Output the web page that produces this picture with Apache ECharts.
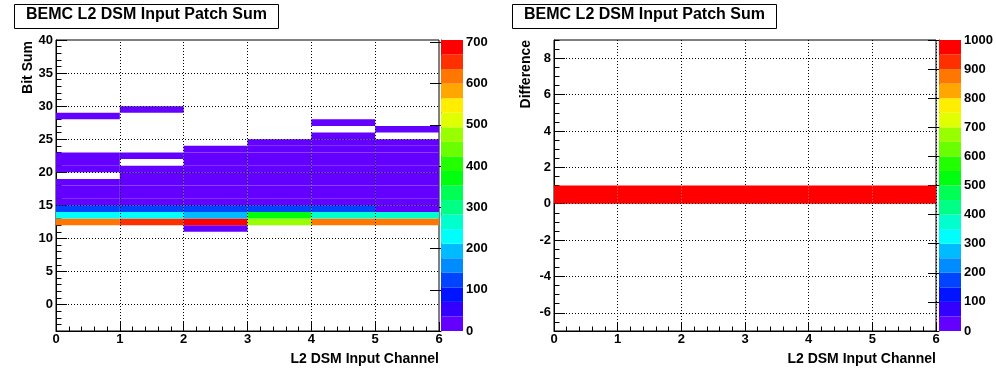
<!DOCTYPE html>
<html><head><meta charset="utf-8">
<script src="https://cdn.jsdelivr.net/npm/echarts@6/dist/echarts.min.js"></script>
<style>html,body{margin:0;padding:0;background:#fff}#c{width:996px;height:372px}</style>
</head><body><div id="c"></div>
<script>
// ---------- data ----------
const channels = [0, 1, 2, 3, 4, 5];
// lower edges of the "Bit Sum" bins (bin width 1)
const bitSumBins = [11,12,13,14,15,16,17,18,19,20,21,22,23,24,25,26,27,28,29];
// counts per bin for each L2 DSM input channel
const ch0 = [0,615,230,115,14,9,6,4,0,3,2,1,0,0,0,0,0,1,0];
const ch1 = [0,650,215,115,12,8,5,3,2,1,0,1,0,0,0,0,0,0,1];
const ch2 = [2,706,190,115,7,4,2,1,1,1,1,1,1,0,0,0,0,0,0];
const ch3 = [0,470,370,115,14,9,6,4,3,2,2,1,1,1,0,0,0,0,0];
const ch4 = [0,610,260,115,10,7,5,3,2,1,1,1,1,1,1,0,1,0,0];
const ch5 = [0,620,265,30,28,18,11,7,4,3,2,2,1,1,0,1,0,0,0];
const bitSumTicks = [0,5,10,15,20,25,30,35,40];
// difference plot: every channel has all entries in the bin [0,1)
const diffBin = [0,0,0,0,0,0];
const diffCounts = [1000,1000,1000,1000,1000,1000];
const diffTicks = [-6,-4,-2,0,2,4,6,8];
const zTicksLeft = [0,100,200,300,400,500,600,700];

// ---------- helpers ----------
const FONT = "'Liberation Sans', Arial, Helvetica, sans-serif";
const NLEV = 20;
function levelColor(k){
  const idx = Math.floor((k + 0.99) * 50 / NLEV);
  const hue = 280 - (idx + 1) * 5.6;
  return 'hsl(' + hue.toFixed(2) + ',100%,50%)';
}
function levelOf(v, zmax){ return Math.min(NLEV - 1, Math.floor(v / zmax * NLEV)); }

const chData = [ch0, ch1, ch2, ch3, ch4, ch5];
const leftData = [];
channels.forEach((c, i) => chData[i].forEach((v, j) => { if (v > 0) leftData.push([c, bitSumBins[j], v]); }));
const zmaxLeft = Math.max(...leftData.map(d => d[2]));
const rightData = channels.map((c, i) => [c, diffBin[i], diffCounts[i]]);
const zmaxRight = Math.max(...diffCounts);

function heatRender(zmax){
  return function(params, api){
    const x = api.value(0), y = api.value(1), v = api.value(2);
    const p0 = api.coord([x, y + 1]);
    const p1 = api.coord([x + 1, y]);
    return {type:'rect', shape:{x:p0[0], y:p0[1], width:p1[0]-p0[0], height:p1[1]-p0[1]},
            style:{fill: levelColor(levelOf(v, zmax))}};
  };
}
function barRender(zmax){
  return function(params, api){
    const k = api.value(0);
    const p0 = api.coord([0, (k + 1) * zmax / NLEV]);
    const p1 = api.coord([1, k * zmax / NLEV]);
    return {type:'rect', shape:{x:p0[0], y:p0[1], width:p1[0]-p0[0], height:p1[1]-p0[1]},
            style:{fill: levelColor(k)}};
  };
}
const levels = Array.from({length: NLEV}, (_, k) => [k]);

const labelStyle = {color:'#000', fontFamily: FONT, fontWeight:'bold', fontSize:13};
const dotted = {color:'#000', type:[1,2], width:1};
const plain = v => String(v);

function mainX(gridIndex){
  return {type:'value', gridIndex, min:0, max:6, interval:1,
    axisLine:{show:true, onZero:false, lineStyle:{color:'#000', width:1}},
    axisTick:{show:true, inside:true, length:9, lineStyle:{color:'#000'}},
    minorTick:{show:true, splitNumber:5, length:4.5, lineStyle:{color:'#000'}},
    axisLabel:Object.assign({margin:2, formatter:plain}, labelStyle),
    splitLine:{show:false}};
}
function hiddenX(gridIndex){
  return {type:'value', gridIndex, min:0, max:1, show:false};
}

const option = {
  animation:false,
  backgroundColor:'#fff',
  grid:[
    {left:56, top:40, width:383, height:291, show:true, borderColor:'#000', borderWidth:1},
    {left:441, top:40, width:22, height:291},
    {left:554, top:40, width:382, height:291, show:true, borderColor:'#000', borderWidth:1},
    {left:939, top:40, width:22, height:291}
  ],
  xAxis:[
    mainX(0),
    hiddenX(1),
    Object.assign(mainX(2), {splitLine:{show:true, lineStyle:dotted}}),
    hiddenX(3)
  ],
  yAxis:[
    {type:'value', gridIndex:0, min:-4, max:40, position:'left',
      axisLine:{show:true, onZero:false, lineStyle:{color:'#000'}},
      axisTick:{show:true, inside:true, length:11, customValues:bitSumTicks, lineStyle:{color:'#000'}},
      axisLabel:Object.assign({margin:3, customValues:bitSumTicks, formatter:plain}, labelStyle),
      splitLine:{show:false}},
    {type:'value', gridIndex:0, min:-4, max:40, interval:1, position:'left', offset:0,
      axisLine:{show:false}, axisLabel:{show:false}, splitLine:{show:false},
      axisTick:{show:true, inside:true, length:5.5, lineStyle:{color:'#000'}}},
    {type:'value', gridIndex:1, min:0, max:zmaxLeft, position:'right',
      axisLine:{show:true, lineStyle:{color:'#000'}},
      axisTick:{show:true, inside:true, length:11, customValues:zTicksLeft, lineStyle:{color:'#000'}},
      axisLabel:Object.assign({margin:3, customValues:zTicksLeft, formatter:plain}, labelStyle),
      splitLine:{show:false}},
    {type:'value', gridIndex:2, min:-7, max:9, position:'left',
      axisLine:{show:true, onZero:false, lineStyle:{color:'#000'}},
      axisTick:{show:true, inside:true, length:11, customValues:diffTicks, lineStyle:{color:'#000'}},
      axisLabel:Object.assign({margin:3, customValues:diffTicks, formatter:plain}, labelStyle),
      splitLine:{show:false}},
    {type:'value', gridIndex:2, min:-7, max:9, interval:0.5, position:'left', offset:0,
      axisLine:{show:false}, axisLabel:{show:false}, splitLine:{show:false},
      axisTick:{show:true, inside:true, length:5.5, lineStyle:{color:'#000'}}},
    {type:'value', gridIndex:3, min:0, max:zmaxRight, interval:100, position:'right',
      axisLine:{show:true, lineStyle:{color:'#000'}},
      axisTick:{show:true, inside:true, length:11, lineStyle:{color:'#000'}},
      axisLabel:Object.assign({margin:3, formatter:plain}, labelStyle),
      splitLine:{show:false}}
  ],
  series:[
    {type:'custom', xAxisIndex:0, yAxisIndex:0, clip:true, data:leftData,
      encode:{x:0, y:1}, renderItem:heatRender(zmaxLeft),
      markLine:{silent:true, symbol:['none','none'], label:{show:false}, lineStyle:dotted,
        data:[1,2,3,4,5].map(v => ({xAxis:v})).concat(bitSumTicks.slice(0, -1).map(v => ({yAxis:v})))}},
    {type:'custom', xAxisIndex:1, yAxisIndex:2, data:levels, encode:{y:0}, renderItem:barRender(zmaxLeft)},
    {type:'custom', xAxisIndex:2, yAxisIndex:3, clip:true, data:rightData,
      encode:{x:0, y:1}, renderItem:heatRender(zmaxRight),
      markLine:{silent:true, symbol:['none','none'], label:{show:false}, lineStyle:dotted,
        data:diffTicks.map(v => ({yAxis:v}))}},
    {type:'custom', xAxisIndex:3, yAxisIndex:5, data:levels, encode:{y:0}, renderItem:barRender(zmaxRight)}
  ],
  graphic:[
    {type:'rect', left:14, top:4, shape:{x:0, y:0, width:264, height:24}, style:{fill:'#fff', stroke:'#000', lineWidth:1}},
    {type:'text', x:146.5, y:14.5, style:{text:'BEMC L2 DSM Input Patch Sum', font:'bold 16px ' + FONT, fill:'#000', textAlign:'center', textVerticalAlign:'middle'}},
    {type:'rect', left:512, top:4, shape:{x:0, y:0, width:264, height:24}, style:{fill:'#fff', stroke:'#000', lineWidth:1}},
    {type:'text', x:644.5, y:14.5, style:{text:'BEMC L2 DSM Input Patch Sum', font:'bold 16px ' + FONT, fill:'#000', textAlign:'center', textVerticalAlign:'middle'}},
    {type:'text', x:439, y:359, style:{text:'L2 DSM Input Channel', font:'bold 14px ' + FONT, fill:'#000', textAlign:'right', textVerticalAlign:'middle'}},
    {type:'text', x:936, y:359, style:{text:'L2 DSM Input Channel', font:'bold 14px ' + FONT, fill:'#000', textAlign:'right', textVerticalAlign:'middle'}},
    {type:'text', x:28, y:41, rotation:Math.PI/2, style:{text:'Bit Sum', font:'bold 14px ' + FONT, fill:'#000', textAlign:'right', textVerticalAlign:'middle'}},
    {type:'text', x:526.5, y:40, rotation:Math.PI/2, style:{text:'Difference', font:'bold 14px ' + FONT, fill:'#000', textAlign:'right', textVerticalAlign:'middle'}}
  ]
};
const chart = echarts.init(document.getElementById('c'), null, {renderer:'canvas'});
chart.setOption(option);
</script>
</body></html>
